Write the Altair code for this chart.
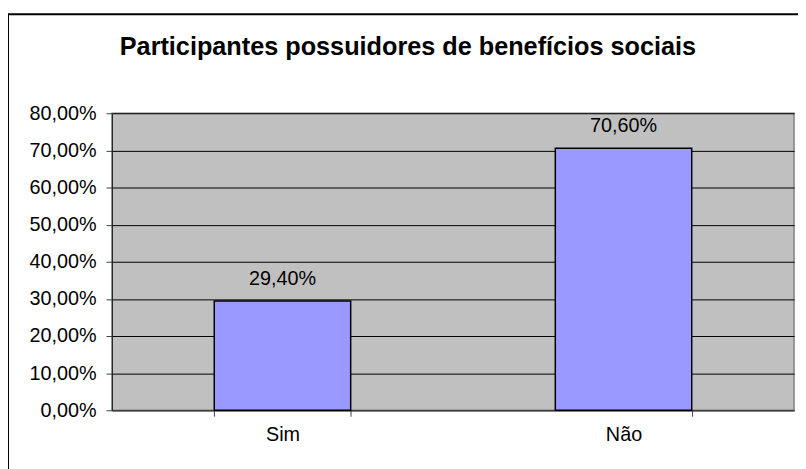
import altair as alt
import pandas as pd

categories = ["Sim", "Não"]
values = [0.294, 0.706]
value_labels = ["29,40%", "70,60%"]
title_text = ["Participantes possuidores de benefícios sociais"]
y_ticks = [0.0, 0.1, 0.2, 0.3, 0.4, 0.5, 0.6, 0.7, 0.8]

df = pd.DataFrame({"cat": categories, "val": values, "lab": value_labels})

W, H = 689, 300
FONT = "Liberation Sans"

x_enc = alt.X(
    "cat:N", sort=categories, title=None,
    scale=alt.Scale(paddingInner=0.6, paddingOuter=0.3),
    axis=alt.Axis(labelAngle=0, labelFontSize=20, labelFont=FONT, labelColor="black",
                  tickBand="extent", tickSize=6, tickColor="#404040", tickWidth=1,
                  domainColor="#404040", domainWidth=1.5, labelPadding=9, grid=False),
)
y_enc = alt.Y(
    "val:Q", title=None,
    scale=alt.Scale(domain=[0, 0.8], nice=False, zero=True),
    axis=alt.Axis(values=y_ticks, tickCount=9, labelOverlap=False, labelFlush=False,
                  labelExpr="replace(format(datum.value, '.2%'), '.', ',')",
                  labelFontSize=20, labelFont=FONT, labelColor="black",
                  grid=True, gridColor="black", gridWidth=1, gridOpacity=1,
                  tickSize=6, tickColor="#404040", tickWidth=1,
                  domainColor="#202020", domainWidth=1, labelPadding=10),
)

base = alt.Chart(df)
bars = base.mark_bar(color="#9999FF", stroke="black", strokeWidth=1.5).encode(x=x_enc, y=y_enc)
texts = base.mark_text(dy=-16, baseline="alphabetic", fontSize=20, font=FONT, color="black").encode(
    x=x_enc, y=y_enc, text="lab:N")

title_df = pd.DataFrame({"t": title_text})
title = alt.Chart(title_df).mark_text(
    fontSize=25.5, fontWeight="bold", font=FONT, color="black", baseline="alphabetic", align="center"
).encode(text="t:N", x=alt.value(299), y=alt.value(-59))

frame_df = pd.DataFrame({"a": [0]})
frame_left = alt.Chart(frame_df).mark_rule(color="black", strokeWidth=2).encode(
    x=alt.value(-105), y=alt.value(-100), y2=alt.value(H + 80))
frame_top = alt.Chart(frame_df).mark_rule(color="black", strokeWidth=2).encode(
    y=alt.value(-100), x=alt.value(-106), x2=alt.value(W + 20))

chart = alt.layer(bars, texts, title, frame_left, frame_top).properties(
    width=W, height=H,
    autosize=alt.AutoSizeParams(type="none"),
    padding={"left": 105, "top": 104, "right": 4, "bottom": 57},
    background="white",
).configure_view(fill="#C0C0C0", stroke="#808080", strokeWidth=1.5)

chart.save("out.html", embed_options={"renderer": "svg", "actions": False})
